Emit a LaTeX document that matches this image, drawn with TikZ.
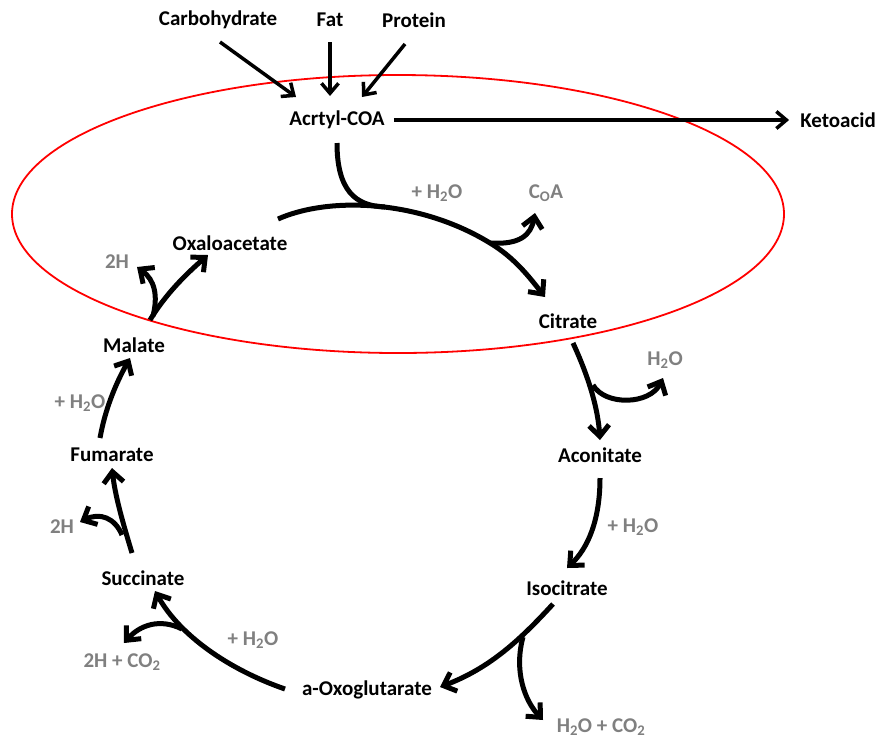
\documentclass[tikz,border=0pt]{standalone}
\usepackage{fontspec}
\setmainfont{Carlito}
\usetikzlibrary{arrows.meta}
\definecolor{sidegray}{RGB}{128,128,128}
\tikzset{
  lbl/.style={font=\fontsize{21}{25}\selectfont\bfseries, inner sep=1pt},
  side/.style={lbl, text=sidegray},
  rx/.style={line width=5pt, -{Straight Barb[length=11pt,width=20pt]}},
  feed/.style={line width=3.5pt, -{Straight Barb[length=10pt,width=17pt]}},
  mergeline/.style={line width=5pt}
}
\begin{document}
\begin{tikzpicture}[x=1pt,y=-1pt]
\useasboundingbox (0,0) rectangle (882,740);

% red outline around the acetyl-CoA entry
\draw[red, line width=1.8pt] (398,214) ellipse [x radius=386, y radius=139];

% metabolites
\node[lbl] (carb) at (218,20) {Carbohydrate};
\node[lbl] (fat)  at (330,20) {Fat};
\node[lbl] (prot) at (414,20) {Protein};
\node[lbl] (acoa) at (337,120) {Acrtyl-COA};
\node[lbl] (keto) at (838,120) {Ketoacid};
\node[lbl] (oxa)  at (230,243) {Oxaloacetate};
\node[lbl] (cit)  at (568,321) {Citrate};
\node[lbl] (mal)  at (134,345) {Malate};
\node[lbl] (aco)  at (600,455) {Aconitate};
\node[lbl] (fum)  at (112,455) {Fumarate};
\node[lbl] (iso)  at (567,588) {Isocitrate};
\node[lbl] (suc)  at (143,578) {Succinate};
\node[lbl] (oxo)  at (367,690) {a-Oxoglutarate};

% side products and reagents
\node[side] (w1)   at (437,193) {+ H\textsubscript{2}O};
\node[side] (coa)  at (546,193) {C\textsubscript{O}A};
\node[side] (h2a)  at (117,262) {2H};
\node[side] (w2)   at (665,360) {H\textsubscript{2}O};
\node[side] (w3)   at (633,527) {+ H\textsubscript{2}O};
\node[side] (w4)   at (80,403)  {+ H\textsubscript{2}O};
\node[side] (h2b)  at (62,527)  {2H};
\node[side] (w5)   at (253,640) {+ H\textsubscript{2}O};
\node[side] (hco)  at (122,662) {2H + CO\textsubscript{2}};
\node[side] (wco)  at (601,727) {H\textsubscript{2}O + CO\textsubscript{2}};

% junction and tip points of the curved arrows
\coordinate (oxaS) at (278,219);
\coordinate (citT) at (545,297);
\coordinate (jA)   at (385,207);
\coordinate (jC)   at (490,243);
\coordinate (coaT) at (535,213);
\coordinate (citS) at (573,343);
\coordinate (acoT) at (600,440);
\coordinate (jW2)  at (593,385);
\coordinate (w2T)  at (663,378);
\coordinate (acoS) at (600,478);
\coordinate (isoT) at (567,568);
\coordinate (isoS) at (553,604);
\coordinate (oxoT) at (440,687);
\coordinate (jWC)  at (523,637);
\coordinate (wcoT) at (543,720);
\coordinate (oxoS) at (285,689);
\coordinate (sucT) at (155,591);
\coordinate (jHC)  at (182,629);
\coordinate (hcoT) at (124,643);
\coordinate (sucS) at (132,553);
\coordinate (fumT) at (112,468);
\coordinate (jH2b) at (122,535);
\coordinate (h2bT) at (80,522);
\coordinate (fumS) at (100,438);
\coordinate (malT) at (130,358);
\coordinate (malS) at (150,320);
\coordinate (oxaT) at (208,255);
\coordinate (jH2a) at (153,316);
\coordinate (h2aT) at (137,267);
\coordinate (carbS) at (220,42);
\coordinate (carbT) at (296,97);
\coordinate (fatS)  at (330,42);
\coordinate (fatT)  at (330,96);
\coordinate (protS) at (405,44);
\coordinate (protT) at (362,97);
\coordinate (acoaS) at (337,143);

% feeds into acetyl-CoA
\draw[feed] (carbS) -- (carbT);
\draw[feed] (fatS) -- (fatT);
\draw[feed] (protS) -- (protT);
\draw[line width=3.5pt, -{Straight Barb[length=10pt,width=17pt]}, shorten <=8pt, shorten >=10pt] (acoa.east) -- (keto.west);

% citric acid cycle
\draw[rx] (oxaS) .. controls (330,196) and (420,200) .. (jC)
              .. controls (515,258) and (530,278) .. (citT);
\draw[mergeline] (acoaS) .. controls (337,190) and (355,206) .. (jA);
\draw[rx] (jC) .. controls (520,245) and (531,235) .. (coaT);

\draw[rx] (citS) .. controls (590,380) and (598,410) .. (acoT);
\draw[rx] (jW2) .. controls (605,406) and (650,405) .. (w2T);

\draw[rx] (acoS) .. controls (600,520) and (588,548) .. (isoT);

\draw[rx] (isoS) .. controls (520,640) and (490,668) .. (oxoT);
\draw[rx] (jWC) .. controls (514,670) and (524,700) .. (wcoT);

\draw[rx] (oxoS) .. controls (230,670) and (180,636) .. (sucT);
\draw[rx] (jHC) .. controls (160,618) and (140,625) .. (hcoT);

\draw[rx] (sucS) .. controls (122,520) and (115,495) .. (fumT);
\draw[rx] (jH2b) .. controls (115,518) and (100,512) .. (h2bT);

\draw[rx] (fumS) .. controls (105,410) and (115,385) .. (malT);

\draw[rx] (malS) .. controls (165,295) and (185,275) .. (oxaT);
\draw[rx] (jH2a) .. controls (158,296) and (155,280) .. (h2aT);
\end{tikzpicture}
\end{document}
